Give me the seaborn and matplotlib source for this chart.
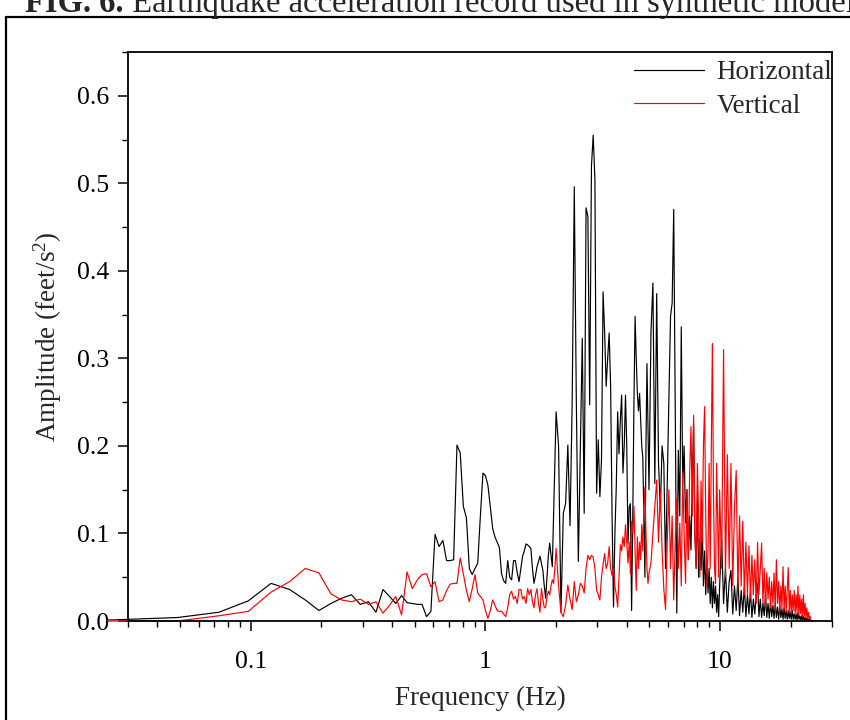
import numpy as np
import pandas as pd
import matplotlib
matplotlib.use("Agg")
import matplotlib.pyplot as plt
import seaborn as sns
from matplotlib.lines import Line2D
from matplotlib.ticker import LogLocator, NullFormatter, MultipleLocator, FormatStrFormatter, FuncFormatter

# ---- data: FFT amplitude spectra (bin width 1/40.96 Hz) ----
DF = 1 / 40.96
bins_low = np.arange(1, 83)          # every bin, 0.02-2 Hz
bins_mid = np.arange(84, 205, 2)     # 2-5 Hz
bins_high = np.arange(208, 409, 4)   # 5-10 Hz
bins_tail = np.arange(416, 1001, 8)  # 10-24.4 Hz

horiz_low = [0.001, 0.004, 0.010, 0.023, 0.043, 0.036, 0.024, 0.012, 0.020, 0.026,
             0.030, 0.019, 0.022, 0.010, 0.036, 0.028, 0.020, 0.029, 0.021, 0.020,
             0.019, 0.019, 0.005, 0.011, 0.099, 0.085, 0.092, 0.069, 0.069, 0.070,
             0.201, 0.192, 0.131, 0.118, 0.060, 0.053, 0.060, 0.066, 0.120, 0.169,
             0.166, 0.155, 0.130, 0.106, 0.096, 0.090, 0.084, 0.054, 0.046, 0.043,
             0.069, 0.050, 0.047, 0.069, 0.069, 0.055, 0.045, 0.060, 0.074, 0.080,
             0.088, 0.087, 0.085, 0.083, 0.060, 0.043, 0.052, 0.062, 0.068, 0.074,
             0.066, 0.058, 0.040, 0.026, 0.050, 0.075, 0.089, 0.075, 0.062, 0.120,
             0.180, 0.239]
horiz_mid = [0.200, 0.010, 0.123, 0.134, 0.201, 0.109, 0.250, 0.496, 0.250, 0.068,
             0.200, 0.323, 0.123, 0.472, 0.462, 0.247, 0.520, 0.555, 0.504, 0.146,
             0.207, 0.142, 0.184, 0.376, 0.330, 0.268, 0.300, 0.329, 0.268, 0.120,
             0.016, 0.100, 0.154, 0.239, 0.191, 0.230, 0.258, 0.169, 0.200, 0.258,
             0.200, 0.089, 0.130, 0.134, 0.012, 0.120, 0.250, 0.348, 0.300, 0.260,
             0.240, 0.260, 0.230, 0.200, 0.187, 0.120, 0.050, 0.200, 0.294, 0.220,
             0.150]
horiz_high = [0.330, 0.386, 0.157, 0.374, 0.180, 0.127, 0.200, 0.180, 0.060, 0.157,
              0.250, 0.348, 0.363, 0.470, 0.241, 0.009, 0.195, 0.120, 0.336, 0.157,
              0.200, 0.112, 0.150, 0.070, 0.120, 0.081, 0.160, 0.226, 0.100, 0.060,
              0.140, 0.050, 0.090, 0.058, 0.110, 0.040, 0.080, 0.030, 0.070, 0.032,
              0.060, 0.020, 0.050, 0.015, 0.045, 0.020, 0.040, 0.010, 0.030, 0.005,
              0.040]
horiz_tail = [0.096, 0.020, 0.060, 0.010, 0.045, 0.058, 0.008, 0.040, 0.012, 0.050,
              0.006, 0.035, 0.010, 0.040, 0.005, 0.030, 0.008, 0.035, 0.004, 0.025,
              0.008, 0.030, 0.043, 0.005, 0.025, 0.004, 0.020, 0.006, 0.030, 0.004,
              0.020, 0.003, 0.022, 0.005, 0.018, 0.003, 0.020, 0.004, 0.016, 0.002,
              0.018, 0.004, 0.014, 0.002, 0.015, 0.003, 0.012, 0.002, 0.012, 0.003,
              0.010, 0.002, 0.012, 0.002, 0.008, 0.002, 0.008, 0.001, 0.010, 0.002,
              0.006, 0.001, 0.006, 0.001, 0.005, 0.001, 0.004, 0.001, 0.003, 0.001,
              0.002, 0.001, 0.001, 0.000]

vert_low = [0.000, 0.000, 0.006, 0.011, 0.033, 0.045, 0.060, 0.055, 0.031, 0.024,
            0.022, 0.025, 0.019, 0.022, 0.009, 0.018, 0.028, 0.007, 0.056, 0.037,
            0.047, 0.053, 0.054, 0.039, 0.045, 0.022, 0.024, 0.035, 0.042, 0.043,
            0.043, 0.072, 0.054, 0.035, 0.022, 0.037, 0.053, 0.032, 0.028, 0.024,
            0.012, 0.003, 0.012, 0.024, 0.018, 0.012, 0.011, 0.011, 0.008, 0.005,
            0.015, 0.030, 0.034, 0.025, 0.028, 0.020, 0.036, 0.036, 0.025, 0.028,
            0.020, 0.037, 0.030, 0.036, 0.022, 0.015, 0.030, 0.037, 0.020, 0.010,
            0.037, 0.025, 0.015, 0.016, 0.028, 0.034, 0.030, 0.040, 0.047, 0.043,
            0.060, 0.083]
vert_mid = [0.040, 0.010, 0.005, 0.018, 0.041, 0.025, 0.013, 0.045, 0.022, 0.030,
            0.043, 0.040, 0.032, 0.060, 0.075, 0.070, 0.075, 0.073, 0.060, 0.035,
            0.030, 0.024, 0.050, 0.065, 0.077, 0.060, 0.066, 0.085, 0.060, 0.052,
            0.060, 0.040, 0.030, 0.016, 0.050, 0.087, 0.080, 0.096, 0.085, 0.110,
            0.090, 0.066, 0.090, 0.054, 0.114, 0.100, 0.131, 0.080, 0.035, 0.096,
            0.060, 0.090, 0.070, 0.110, 0.080, 0.130, 0.153, 0.100, 0.060, 0.043,
            0.055]
vert_high = [0.066, 0.100, 0.130, 0.161, 0.090, 0.150, 0.080, 0.036, 0.013, 0.090,
             0.150, 0.060, 0.120, 0.024, 0.090, 0.140, 0.060, 0.112, 0.040, 0.169,
             0.100, 0.043, 0.150, 0.070, 0.169, 0.222, 0.120, 0.235, 0.100, 0.060,
             0.180, 0.120, 0.050, 0.160, 0.090, 0.200, 0.245, 0.120, 0.040, 0.081,
             0.180, 0.060, 0.200, 0.317, 0.150, 0.060, 0.043, 0.180, 0.119, 0.050,
             0.150]
vert_tail = [0.060, 0.310, 0.050, 0.190, 0.060, 0.180, 0.040, 0.130, 0.172, 0.035,
             0.120, 0.040, 0.114, 0.030, 0.090, 0.030, 0.086, 0.025, 0.075, 0.030,
             0.070, 0.020, 0.090, 0.030, 0.060, 0.089, 0.020, 0.060, 0.015, 0.055,
             0.025, 0.050, 0.015, 0.045, 0.020, 0.055, 0.012, 0.070, 0.020, 0.045,
             0.010, 0.040, 0.015, 0.062, 0.012, 0.040, 0.010, 0.035, 0.061, 0.010,
             0.035, 0.008, 0.030, 0.012, 0.035, 0.008, 0.030, 0.010, 0.040, 0.006,
             0.030, 0.008, 0.025, 0.005, 0.030, 0.005, 0.020, 0.004, 0.015, 0.003,
             0.010, 0.002, 0.005, 0.000]

series_names = ["Horizontal", "Vertical"]
series_colors = {"Horizontal": "black", "Vertical": "red"}
title_bold = "FIG. 6."
title_rest = " Earthquake acceleration record used in synthetic model."

freq = DF * np.concatenate([bins_low, bins_mid, bins_high, bins_tail])
horizontal = np.concatenate([horiz_low, horiz_mid, horiz_high, horiz_tail])
vertical = np.concatenate([vert_low, vert_mid, vert_high, vert_tail])
n = len(freq)
df = pd.DataFrame({
    "Frequency": np.concatenate([freq, freq]),
    "Amplitude": np.concatenate([horizontal, vertical]),
    "Component": [series_names[0]] * n + [series_names[1]] * n,
})

sns.set_style("ticks")
plt.rcParams["font.family"] = ["Liberation Serif", "DejaVu Serif"]
plt.rcParams["mathtext.fontset"] = "custom"
plt.rcParams["mathtext.rm"] = "Liberation Serif"
plt.rcParams["mathtext.it"] = "Liberation Serif:italic"

W, H = 850, 720
fig = plt.figure(figsize=(W / 100, H / 100), dpi=100)
fig.patch.set_facecolor("white")
ax = fig.add_axes([128 / W, 1 - 621 / H, 704 / W, 569 / H])

sns.lineplot(data=df, x="Frequency", y="Amplitude", hue="Component",
             hue_order=series_names, palette=series_colors, estimator=None,
             sort=False, linewidth=0.85, legend=False, ax=ax)
for ln in ax.get_lines():
    ln.set_clip_on(False)

ax.set_xscale("log")
ax.set_xlim(0.03, 30)
ax.set_ylim(0, 0.65)
ax.xaxis.set_major_locator(LogLocator(base=10, numticks=10))
ax.xaxis.set_minor_locator(LogLocator(base=10, subs=np.arange(2, 10), numticks=20))
ax.xaxis.set_major_formatter(FuncFormatter(lambda v, p: "%g" % v))
ax.xaxis.set_minor_formatter(NullFormatter())
ax.yaxis.set_major_locator(MultipleLocator(0.1))
ax.yaxis.set_minor_locator(MultipleLocator(0.05))
ax.yaxis.set_major_formatter(FormatStrFormatter("%.1f"))

ax.tick_params(which="major", direction="out", length=7.5, width=1.1,
               labelsize=18.5, color="black", labelcolor="black")
ax.tick_params(which="minor", direction="out", length=4, width=1.0, color="black")
ax.tick_params(axis="x", which="major", pad=14)
ax.tick_params(axis="y", which="major", pad=6)
ax.tick_params(top=False, right=False, which="both")
for s in ax.spines.values():
    s.set_linewidth(1.3)
    s.set_color("black")

ax.set_xlabel("Frequency (Hz)", fontsize=19.5, labelpad=9)
ax.set_ylabel("Amplitude (feet/s$^2$)", fontsize=19.5, labelpad=9)

handles = [Line2D([0], [0], color=series_colors[s], lw=0.85) for s in series_names]
ax.legend(handles, series_names, loc="upper right", bbox_to_anchor=(1.012, 1.0),
          frameon=False, fontsize=19.5, handlelength=2.6, handletextpad=0.45,
          labelspacing=0.32, borderaxespad=0.0, borderpad=0.3)

# outer frame of the figure panel and its caption
fig.add_artist(Line2D([6 / W, 6 / W], [0, 1 - 17 / H], color="black", lw=1.6))
fig.add_artist(Line2D([6 / W, 1], [1 - 17 / H, 1 - 17 / H], color="black", lw=1.6))
t1 = fig.text(25 / W, 1 - 12 / H, title_bold, fontsize=23.5, fontweight="bold",
              va="baseline", ha="left")
fig.canvas.draw()
bb = t1.get_window_extent()
fig.text(bb.x1 / W, 1 - 12 / H, title_rest, fontsize=23.5, va="baseline", ha="left")

fig.savefig("out.png", dpi=100, facecolor="white")
